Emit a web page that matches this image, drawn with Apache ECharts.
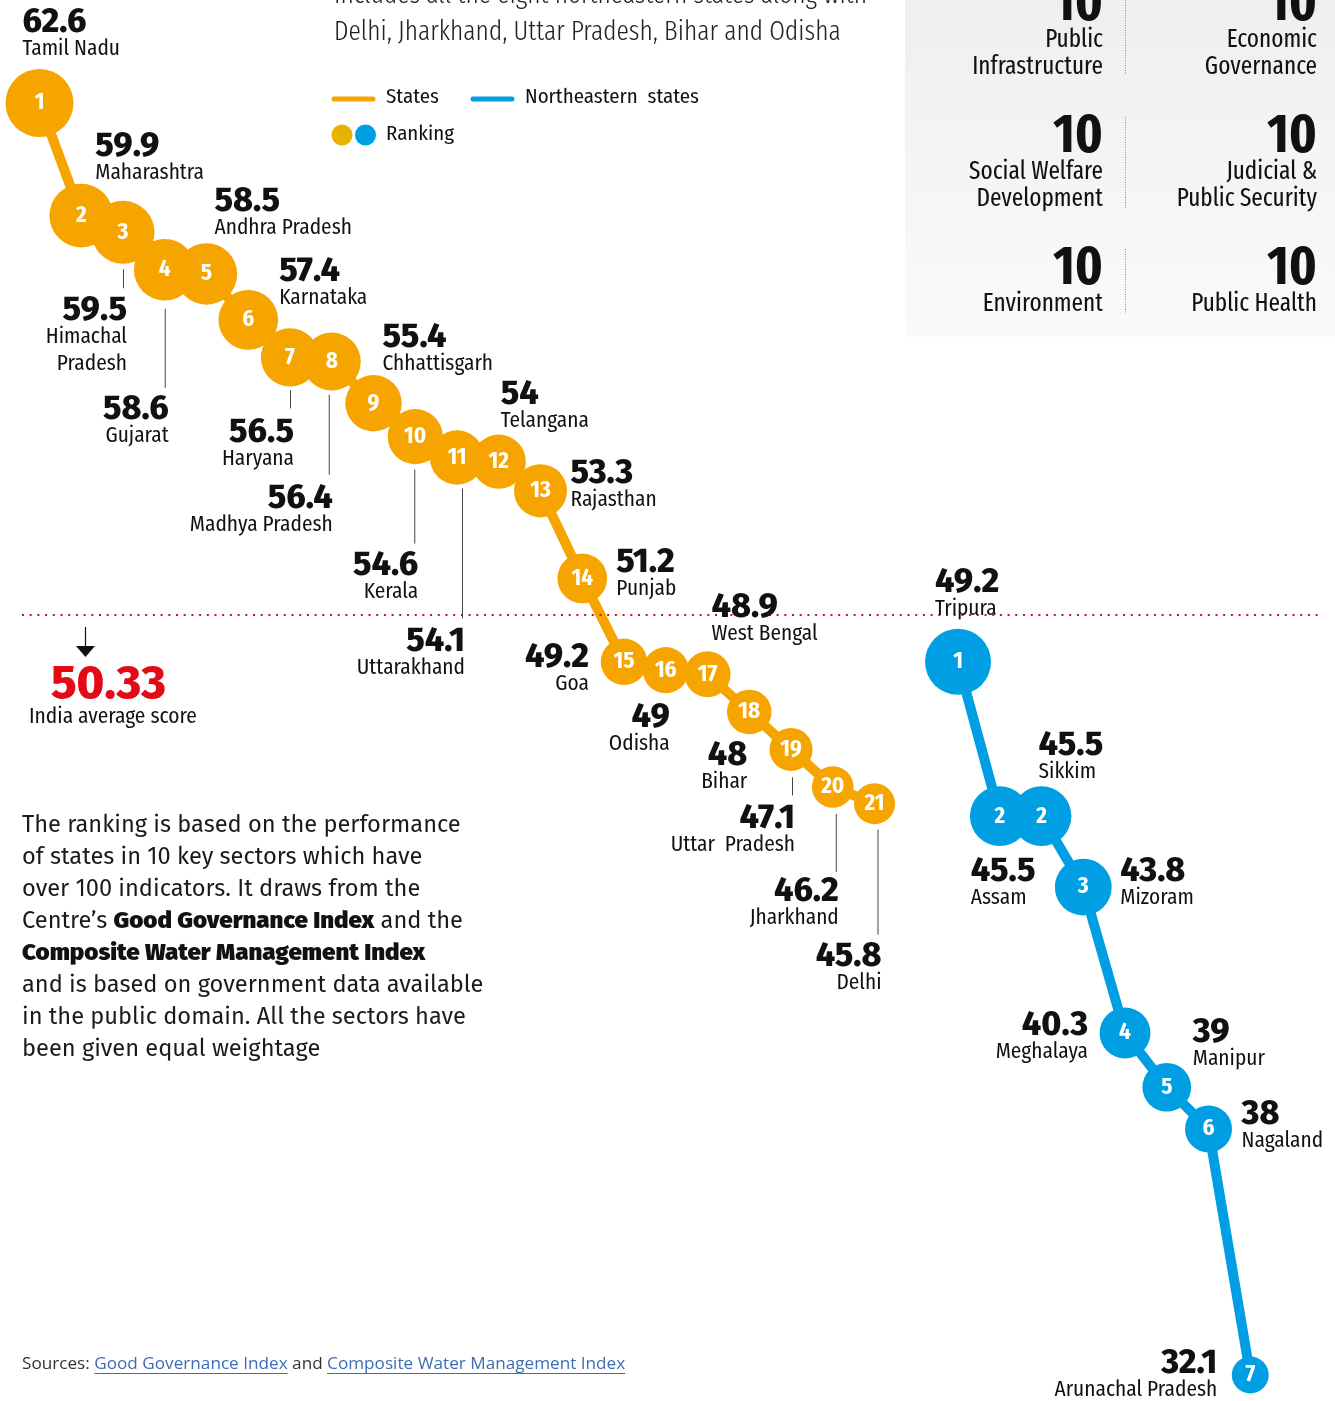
<!DOCTYPE html>
<html><head><meta charset="utf-8">
<script src="https://cdn.jsdelivr.net/npm/echarts@6/dist/echarts.min.js"></script>
<style>html,body{margin:0;padding:0;background:#fff}#c{width:1335px;height:1401px}</style>
</head><body><div id="c"></div>
<script>
// ---------------- DATA ----------------
const stateNames = ['Tamil Nadu','Maharashtra','Himachal\nPradesh','Gujarat','Andhra Pradesh','Karnataka','Haryana','Madhya Pradesh','Chhattisgarh','Kerala','Uttarakhand','Telangana','Rajasthan','Punjab','Goa','Odisha','West Bengal','Bihar','Uttar  Pradesh','Jharkhand','Delhi'];
const stateScores = [62.6,59.9,59.5,58.6,58.5,57.4,56.5,56.4,55.4,54.6,54.1,54,53.3,51.2,49.2,49,48.9,48,47.1,46.2,45.8];
const stateRanks = [1,2,3,4,5,6,7,8,9,10,11,12,13,14,15,16,17,18,19,20,21];
const stateSlots = [0,1,2,3,4,5,6,7,8,9,10,11,12,13,14,15,16,17,18,19,20];

const neNames = ['Tripura','Assam','Sikkim','Mizoram','Meghalaya','Manipur','Nagaland','Arunachal Pradesh'];
const neScores = [49.2,45.5,45.5,43.8,40.3,39,38,32.1];
const neRanks = [1,2,2,3,4,5,6,7];
const neSlots = [22,23,24,25,26,27,28,29];

const indiaAverage = 50.33;

const sectorNames = ['Public\nInfrastructure','Economic\nGovernance','Social Welfare\nDevelopment','Judicial &\nPublic Security','Environment','Public Health'];
const sectorIndicators = [10,10,10,10,10,10];

// ---------------- LABEL LAYOUT (pixel offsets from each point) ----------------
// [dx, dy (cap top of value), align, leader [dx, y1, y2] or null]
const stateLabelPos = [
  [-17,-92,'left',null],[14,-81,'left',null],[4,66,'right',[0,37,56]],[4,128,'right',[0,39,118]],
  [8,-84,'left',null],[31,-60,'left',null],[4,63,'right',[0,33,51]],[1,125,'right',[-3,33,113]],
  [9,-78,'left',null],[3,117,'right',[-1,33,107]],[8,172,'right',[5,31,161]],[2,-79,'left',null],
  [30,-29,'left',null],[34,-28,'left',null],[-35,-16,'right',null],[4,35,'right',null],
  [4,-79,'left',null],[-2,32,'right',null],[4,57,'right',[1,28,46]],[6,93,'right',[3,27,85]],
  [7,141,'right',[3,26,131]]
];
const neLabelPos = [
  [-23,-91,'left',null],[-29,43,'left',null],[-3,-83,'left',null],[37,-28,'left',null],
  [-37,-20,'right',null],[26,-67,'left',null],[33,-26,'left',null],[-33,-24,'right',null]
];

// ---------------- STYLE ----------------
const ORANGE = '#F6A500', BLUE = '#009FE3', RED = '#E30A17', INK = '#111';
const FN = '"Fira Sans Condensed","Roboto Condensed",sans-serif';
const FX = '"Fira Sans Extra Condensed","Fira Sans Condensed","Roboto Condensed",sans-serif';
const FV = '"Fira Sans","Noto Sans",sans-serif';
const FP = '"Fira Sans",Lato,sans-serif';

const mctx = document.createElement('canvas').getContext('2d');
function tw(t, font){ mctx.font = font; return mctx.measureText(t).width; }
function fit(t, weight, size, family, target){ return size * target / tw(t, weight + ' ' + size + 'px ' + family); }

const NAME_SIZE = fit('Madhya Pradesh', 'normal', 24, FN, 143);
const VAL_SIZE = fit('62.6', '800', 29, FV, 64);

function sizeFn(scores, dMin, dMax){
  const lo = Math.min(...scores), hi = Math.max(...scores);
  return v => dMin + (v[1] - lo) / (hi - lo) * (dMax - dMin);
}

function labelSeries(names, scores, slots, pos){
  return {
    type:'custom', coordinateSystem:'cartesian2d', silent:true, clip:false, z:6,
    data: slots.map((s,i)=>[s, scores[i], i]),
    renderItem:(params, api)=>{
      const i = api.value(2);
      const p = api.coord([api.value(0), api.value(1)]);
      const L = pos[i];
      const x = p[0] + L[0], cap = p[1] + L[1];
      const ch = [
        {type:'text', style:{text:String(scores[i]), x:x, y:cap + 0.354*VAL_SIZE - 15, align:L[2], verticalAlign:'top',
          fontSize:VAL_SIZE, fontWeight:800, fontFamily:FV, fill:INK, lineHeight:30}},
        {type:'text', style:{text:names[i], x:x, y:cap + 31 + 0.354*NAME_SIZE - 13.5, align:L[2], verticalAlign:'top',
          fontSize:NAME_SIZE, fontFamily:FN, fill:INK, lineHeight:27}}
      ];
      if (L[3]) ch.push({type:'line', shape:{x1:p[0]+L[3][0]+0.5, y1:p[1]+L[3][1], x2:p[0]+L[3][0]+0.5, y2:p[1]+L[3][2]},
        style:{stroke:'#444', lineWidth:1}});
      return {type:'group', children:ch};
    }
  };
}

function lineSeries(scores, slots, ranks, color, sf, z){
  return {
    type:'line', clip:false, z:z, silent:true,
    data: slots.map((s,i)=>[s, scores[i]]),
    symbol:'circle', symbolSize: sf, showAllSymbol:true,
    lineStyle:{color:color, width:10}, itemStyle:{color:color},
    label:{show:true, position:'inside', formatter:p=>String(ranks[p.dataIndex]),
      color:'#fff', fontSize:23, fontWeight:700, fontFamily:FN},
    emphasis:{disabled:true}
  };
}

// ---------------- GRAPHIC ----------------
const g = [];
// text placed by cap-top y (approx. for Fira metrics)
function T(text, x, capTop, size, family, opts){
  opts = opts || {};
  const lh = opts.lh || Math.round(size*1.1);
  g.push({type:'text', z:10, silent:true, style:{text:text, x:x, y:capTop + 0.354*size - lh/2, fontSize:size, fontFamily:family,
    fontWeight:opts.weight||'normal', fill:opts.fill||INK, align:opts.align||'left', verticalAlign:'top', lineHeight:lh}});
}
// right panel
g.push({type:'rect', z:0, silent:true, shape:{x:905,y:0,width:430,height:337},
  style:{fill:new echarts.graphic.LinearGradient(0,0,0,1,[{offset:0,color:'#EFEFEF'},{offset:1,color:'#FAFAFA'}])}});
const colRight = [1103, 1317];
const rowTop = [-15, 117, 249];
const sepSpans = [[0,75],[117,208],[249,314]];
const panelLabelSize = fit('Social Welfare','normal',25,FX,134);
for (let i=0;i<sectorNames.length;i++){
  const c = i%2, r = Math.floor(i/2);
  T(String(sectorIndicators[i]), colRight[c], rowTop[r], 55, FX, {weight:'bold', align:'right', lh:55});
  T(sectorNames[i], colRight[c], rowTop[r]+46, panelLabelSize, FX, {align:'right', lh:27});
}
sepSpans.forEach(s=>g.push({type:'line', z:1, silent:true, shape:{x1:1125.5,y1:s[0],x2:1125.5,y2:s[1]},
  style:{stroke:'#888', lineWidth:1, lineDash:[1,1.5]}}));

// title
const title2 = 'Delhi, Jharkhand, Uttar Pradesh, Bihar and Odisha';
const titleSize = fit(title2, '300', 28, FX, 507);
T('Includes all the eight northeastern states along with', 334, -15, titleSize, FX, {weight:300, fill:'#222', lh:32});
T(title2, 334, 22, titleSize, FX, {weight:300, fill:'#222', lh:32});

// legend
const legSize = fit('Northeastern  states','normal',23,FN,174);
g.push({type:'line', z:10, silent:true, shape:{x1:334,y1:99,x2:373,y2:99}, style:{stroke:ORANGE,lineWidth:5,lineCap:'round'}});
g.push({type:'line', z:10, silent:true, shape:{x1:473,y1:99,x2:512,y2:99}, style:{stroke:BLUE,lineWidth:5,lineCap:'round'}});
T('States', 386, 90, legSize, FN, {lh:26});
T('Northeastern  states', 525, 90, legSize, FN, {lh:26});
g.push({type:'circle', z:10, silent:true, shape:{cx:342,cy:135,r:10.5}, style:{fill:'#E8B300'}});
g.push({type:'circle', z:10, silent:true, shape:{cx:365.5,cy:135,r:10.5}, style:{fill:BLUE}});
T('Ranking', 386, 127, legSize, FN, {lh:26});

// average annotation
g.push({type:'line', z:10, silent:true, shape:{x1:85.5,y1:627,x2:85.5,y2:648}, style:{stroke:'#111',lineWidth:1.2}});
g.push({type:'polygon', z:10, silent:true, shape:{points:[[76,646],[95,646],[85.5,657]]}, style:{fill:'#111'}});
T(String(indiaAverage), 51, 668, fit('50.33','800',45,FV,115), FV, {weight:800, fill:RED, lh:50});
T('India average score', 29, 709, fit('India average score','normal',23,FN,168), FN, {lh:26});

// paragraph
const paraLines = [
  [['n','The ranking is based on the performance']],
  [['n','of states in 10 key sectors which have']],
  [['n','over 100 indicators. It draws from the']],
  [['n','Centre’s '],['b','Good Governance Index'],['n',' and the']],
  [['b','Composite Water Management Index']],
  [['n','and is based on government data available']],
  [['n','in the public domain. All the sectors have']],
  [['n','been given equal weightage']]
];
const pSize = fit('The ranking is based on the performance','normal',25,FP,439);
const bSize = pSize * 1.02;
paraLines.forEach((ln,i)=>{
  const txt = ln.map(s=>'{'+s[0]+'|'+s[1]+'}').join('');
  g.push({type:'text', z:10, silent:true, style:{text:txt, x:22, y:825+32*i, verticalAlign:'middle', align:'left',
    rich:{n:{fontSize:pSize, fontFamily:FP, fontWeight:'normal', fill:'#1a1a1a'}, b:{fontSize:bSize, fontFamily:FP, fontWeight:900, fill:'#111'}}}});
});

// sources
const srcParts = [['Sources: ','#333',false],['Good Governance Index','#3D6DB5',true],[' and ','#333',false],['Composite Water Management Index','#3D6DB5',true]];
const SF = '"Open Sans",sans-serif';
const srcSize = fit(srcParts.map(p=>p[0]).join(''),'normal',17,SF,604);
let sx = 22;
srcParts.forEach(p=>{
  const w = tw(p[0], srcSize+'px '+SF);
  g.push({type:'text', z:10, silent:true, style:{text:p[0], x:sx, y:1364, verticalAlign:'middle', fontSize:srcSize, fontFamily:SF, fill:p[1]}});
  if (p[2]) g.push({type:'line', z:10, silent:true, shape:{x1:sx,y1:1373.5,x2:sx+w,y2:1373.5}, style:{stroke:p[1],lineWidth:1}});
  sx += w;
});

// ---------------- CHART ----------------
const chart = echarts.init(document.getElementById('c'), null, {renderer:'canvas'});
chart.setOption({
  animation:false,
  backgroundColor:'#fff',
  grid:{left:22, right:15, top:86.3, bottom:21.8},
  xAxis:{type:'value', min:-0.419, max:30.67, show:false},
  yAxis:{type:'value', min:32, max:63, show:false},
  series:[
    {type:'line', data:[], z:1, silent:true,
      markLine:{silent:true, symbol:'none', label:{show:false},
        lineStyle:{color:RED, type:[2,5.7], width:2, cap:'butt'}, data:[{yAxis:indiaAverage}]}},
    lineSeries(stateScores, stateSlots, stateRanks, ORANGE, sizeFn(stateScores,41,68), 3),
    lineSeries(neScores, neSlots, neRanks, BLUE, sizeFn(neScores,37,66), 3),
    labelSeries(stateNames, stateScores, stateSlots, stateLabelPos),
    labelSeries(neNames, neScores, neSlots, neLabelPos)
  ],
  graphic:g
});
</script></body></html>
